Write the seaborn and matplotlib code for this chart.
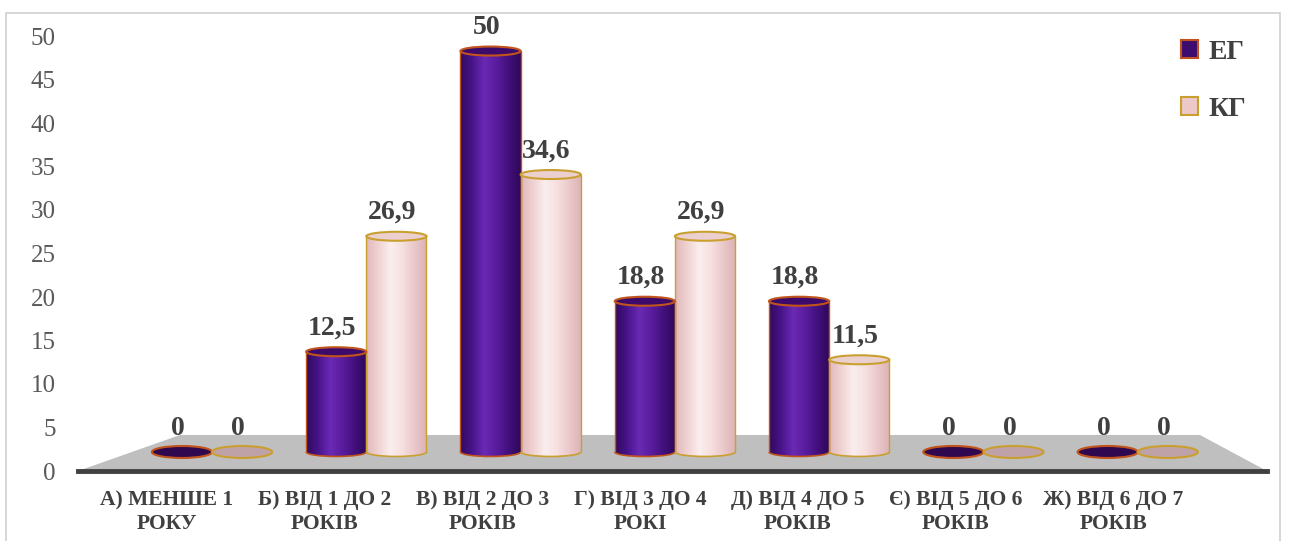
import numpy as np
import pandas as pd
import matplotlib
matplotlib.use("Agg")
import matplotlib.pyplot as plt
import seaborn as sns
from matplotlib.patches import Ellipse, Polygon, Rectangle, Patch, Arc
from matplotlib.colors import LinearSegmentedColormap

# ---- data -------------------------------------------------------------
categories = [
    "А) МЕНШЕ 1\nРОКУ",
    "Б) ВІД 1 ДО 2\nРОКІВ",
    "В) ВІД 2 ДО 3\nРОКІВ",
    "Г) ВІД 3 ДО 4\nРОКІ",
    "Д) ВІД 4 ДО 5\nРОКІВ",
    "Є) ВІД 5 ДО 6\nРОКІВ",
    "Ж) ВІД 6 ДО 7\nРОКІВ",
]
groups = ["ЕГ", "КГ"]
eg_values = [0, 12.5, 50, 18.8, 18.8, 0, 0]
kg_values = [0, 26.9, 34.6, 26.9, 11.5, 0, 0]
y_ticks = [0, 5, 10, 15, 20, 25, 30, 35, 40, 45, 50]

df = pd.DataFrame({
    "category": categories * 2,
    "group": [groups[0]] * len(categories) + [groups[1]] * len(categories),
    "value": eg_values + kg_values,
})

# ---- style ------------------------------------------------------------
sns.set_theme(style="white")
plt.rcParams["font.family"] = ["Liberation Serif", "DejaVu Serif"]

TEXT = "#404040"
TICK = "#595959"

styles = {
    "ЕГ": dict(
        body=LinearSegmentedColormap.from_list(
            "eg", ["#300a5c", "#48148a", "#6a2ab4", "#5a1c9e", "#42107c", "#2e0858"]),
        cap="#3b0a6a", edge="#c0541c", disk="#30084f", base="#4b1290",
        legend="#3d0c6e"),
    "КГ": dict(
        body=LinearSegmentedColormap.from_list(
            "kg", ["#dfb8ba", "#f0d2d2", "#fbeeee", "#f6dfdf", "#eac8ca", "#dab2b4"]),
        cap="#ecd0d0", edge="#c9a030", disk="#bfa2a8", base="#f2d6d6",
        legend="#ecc8c8"),
}

W, H = 1289, 541
fig = plt.figure(figsize=(W / 100, H / 100), dpi=100)


def px_axes(x0, y_top, x1, y_bottom):
    return fig.add_axes([x0 / W, 1 - y_bottom / H, (x1 - x0) / W, (y_bottom - y_top) / H])


def fig_xy(pts):
    return [(x / W, 1 - y / H) for x, y in pts]


# outer chart frame (runs past the bottom edge)
fig.patches.append(Rectangle((6 / W, -0.1), (1280 - 6) / W, 1.1 - 13 / H,
                             transform=fig.transFigure, fill=False,
                             edgecolor="#d0d0d0", linewidth=1.2))

# ---- front axis: value scale, floor, category labels ------------------
ax_front = px_axes(78, 36, 1267, 471)
ax_front.set_xlim(-0.564, 6.975)
ax_front.set_ylim(0, 50)
ax_front.patch.set_alpha(0)
for side in ("top", "right", "left"):
    ax_front.spines[side].set_visible(False)
ax_front.spines["bottom"].set_color(TEXT)
ax_front.spines["bottom"].set_linewidth(3.5)
ax_front.set_yticks(y_ticks)
ax_front.set_yticklabels([str(t) for t in y_ticks], fontsize=18, color=TICK)
ax_front.set_xticks(range(len(categories)))
ax_front.set_xticklabels(categories, fontsize=15.5, fontweight="bold", color=TEXT,
                         linespacing=1.25)
ax_front.tick_params(axis="y", length=0, pad=16)
ax_front.tick_params(axis="x", length=0, pad=14)

floor = Polygon(fig_xy([(78, 471), (180, 435), (1200, 435), (1267, 471)]),
                closed=True, transform=fig.transFigure, facecolor="#bfbfbf",
                edgecolor="none", zorder=0, clip_on=False)
ax_front.add_patch(floor)

# ---- bars -------------------------------------------------------------
ax_bars = px_axes(88.6, 35, 1261.2, 460)
sns.barplot(data=df, x="category", y="value", hue="group", order=categories,
            hue_order=groups, width=0.78, dodge=True, saturation=1,
            palette={g: styles[g]["base"] for g in groups}, legend=False, ax=ax_bars)
ax_bars.set_xlim(-0.8, 6.8)
ax_bars.set_ylim(-1, 52)
ax_bars.axis("off")

PX_PER_UNIT = 8.02
cap_h = 9 / PX_PER_UNIT
disk_h = 12 / PX_PER_UNIT

# cylinder shading: horizontal light falloff across the round surface
shade = np.linspace(0, 1, 256)[None, :]

for container, group in zip(ax_bars.containers, groups):
    st = styles[group]
    for bar in container:
        x0 = bar.get_x()
        w = bar.get_width()
        h = bar.get_height()
        xc = x0 + w / 2
        bar.set_facecolor("none")
        bar.set_edgecolor("none")
        if h <= 0:
            ax_bars.add_patch(Ellipse((xc, 0), w, disk_h, facecolor=st["disk"],
                                      edgecolor=st["edge"], linewidth=1.5,
                                      zorder=4, clip_on=False))
        else:
            body = ax_bars.imshow(shade, extent=(x0, x0 + w, 0, h), aspect="auto",
                                  cmap=st["body"], zorder=3, interpolation="bilinear",
                                  vmin=0, vmax=1)
            body.set_clip_path(bar)
            base = Ellipse((xc, 0), w, cap_h, facecolor="none", edgecolor="none")
            ax_bars.add_patch(base)
            foot = ax_bars.imshow(shade, extent=(x0, x0 + w, -cap_h, cap_h),
                                  aspect="auto", cmap=st["body"], zorder=3,
                                  interpolation="bilinear", vmin=0, vmax=1)
            foot.set_clip_path(base)
            ax_bars.add_patch(Arc((xc, 0), w, cap_h, theta1=180, theta2=360,
                                  color=st["edge"], linewidth=1.2, zorder=4))
            ax_bars.plot([x0, x0], [0, h], color=st["edge"], linewidth=1.0, zorder=4)
            ax_bars.plot([x0 + w, x0 + w], [0, h], color=st["edge"], linewidth=1.0,
                         zorder=4)
            ax_bars.add_patch(Ellipse((xc, h), w, cap_h, facecolor=st["cap"],
                                      edgecolor=st["edge"], linewidth=1.5, zorder=5))
        label = f"{h:g}".replace(".", ",")
        ax_bars.annotate(label, xy=(xc, h), xytext=(-3, 17), textcoords="offset points",
                         ha="center", va="center", fontsize=20, fontweight="bold",
                         color=TEXT, annotation_clip=False, zorder=6)

# ---- legend -----------------------------------------------------------
handles = [Patch(facecolor=styles[g]["legend"], edgecolor=styles[g]["edge"],
                 linewidth=1.5) for g in groups]
fig.legend(handles, groups, loc="upper left", bbox_to_anchor=(1181 / W, 1 - 40 / H),
           frameon=False, prop={"size": 20, "weight": "bold"}, labelcolor=TEXT,
           handlelength=0.6, handleheight=0.6, handletextpad=0.4,
           labelspacing=1.15, borderpad=0, borderaxespad=0)

fig.savefig("out.png", dpi=100)
